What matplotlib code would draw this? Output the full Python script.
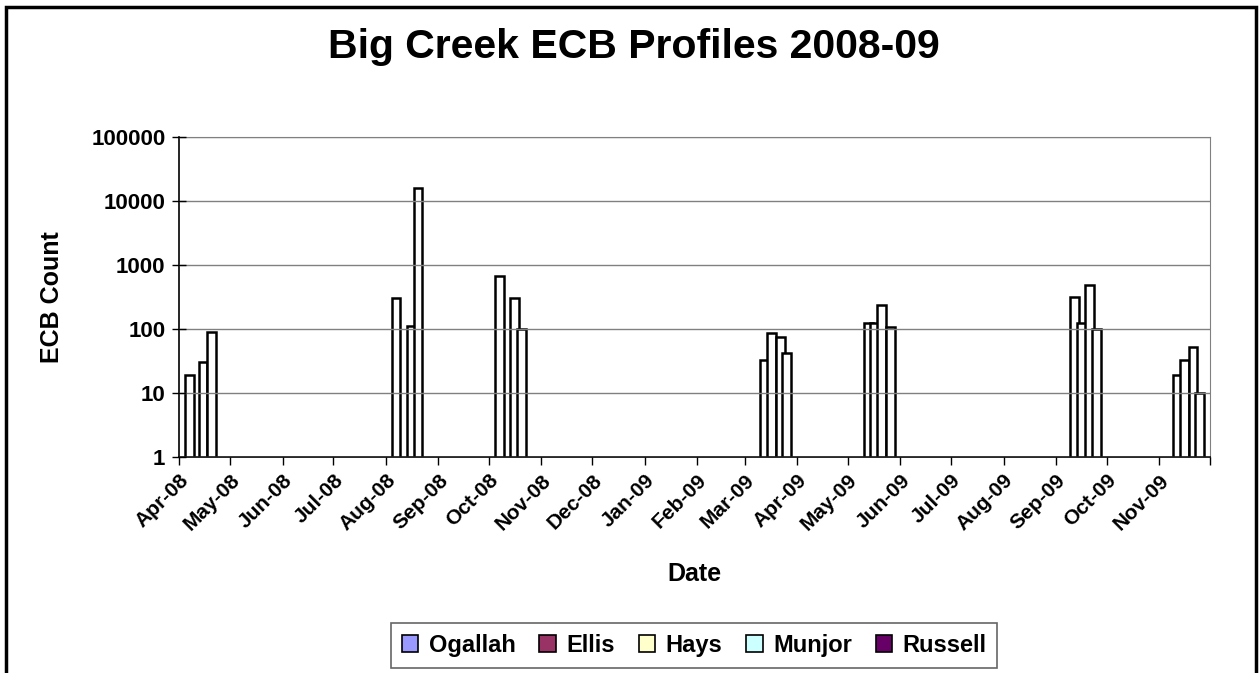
import matplotlib
matplotlib.use("Agg")
import matplotlib.pyplot as plt
import pandas as pd
from matplotlib.patches import Patch, Rectangle

# sample dates and ECB counts
sample_dates = [
    "2008-04-07", "2008-04-15", "2008-04-20",
    "2008-08-07", "2008-08-16", "2008-08-20",
    "2008-10-07", "2008-10-16", "2008-10-20",
    "2009-03-13", "2009-03-17", "2009-03-22", "2009-03-26",
    "2009-05-13", "2009-05-17", "2009-05-21", "2009-05-26",
    "2009-09-12", "2009-09-16", "2009-09-21", "2009-09-25",
    "2009-11-12", "2009-11-16", "2009-11-21", "2009-11-25",
]
ecb_counts = [
    19, 30, 90,
    300, 112, 16000,
    680, 300, 100,
    32, 87, 74, 42,
    123, 123, 237, 107,
    310, 123, 480, 98,
    19, 32, 52, 10,
]

locations = ["Ogallah", "Ellis", "Hays", "Munjor", "Russell"]
loc_colors = ["#9999FF", "#993366", "#FFFFCC", "#CCFFFF", "#660066"]

month_ticks = pd.date_range("2008-04-01", "2009-12-01", freq="MS")
month_labels = [d.strftime("%b-%y") for d in month_ticks[:-1]] + [""]

plt.rcParams["font.family"] = ["Liberation Sans", "DejaVu Sans"]
plt.rcParams["font.weight"] = "bold"

fig = plt.figure(figsize=(12.6, 6.73), dpi=100)
ax = fig.add_axes([0.1423, 0.3214, 0.818, 0.475])

dates = pd.to_datetime(sample_dates)
ax.bar(dates, ecb_counts, width=5.2, bottom=0, color="white",
       edgecolor="black", linewidth=1.8, zorder=2)

ax.set_yscale("log")
ax.set_ylim(1, 100000)
ax.set_yticks([1, 10, 100, 1000, 10000, 100000])
ax.set_yticklabels(["1", "10", "100", "1000", "10000", "100000"])
ax.yaxis.set_minor_locator(matplotlib.ticker.NullLocator())
ax.yaxis.grid(True, color="#808080", linewidth=1.0, zorder=3)
ax.set_axisbelow(False)

ax.set_xlim(month_ticks[0], month_ticks[-1])
ax.set_xticks(month_ticks)
ax.set_xticklabels(month_labels, rotation=45, ha="right",
                   rotation_mode="anchor", fontsize=15, fontweight="bold")
ax.tick_params(axis="x", direction="out", length=6, width=1, pad=4)
ax.tick_params(axis="y", direction="inout", length=10, width=1, labelsize=16, pad=5)

for s in ["top", "right"]:
    ax.spines[s].set_color("#808080")
for s in ["left", "bottom"]:
    ax.spines[s].set_color("black")
    ax.spines[s].set_linewidth(1.2)

ax.set_ylabel("ECB Count", fontsize=18, fontweight="bold")
ax.yaxis.set_label_coords(-0.112, 0.5)
ax.set_xlabel("Date", fontsize=18, fontweight="bold")
ax.xaxis.set_label_coords(0.5, -0.33)

fig.suptitle("Big Creek ECB Profiles 2008-09", fontsize=29.5, fontweight="bold",
             x=0.503, y=0.958)

handles = [Patch(facecolor=c, edgecolor="black", linewidth=1.2) for c in loc_colors]
leg = fig.legend(handles, locations, loc="center", bbox_to_anchor=(0.551, 0.041),
                 ncol=5, frameon=True, fancybox=False, handlelength=0.7,
                 handleheight=0.7, handletextpad=0.45, columnspacing=1.0,
                 borderpad=0.45, prop={"size": 17, "weight": "bold"})
leg.get_frame().set_edgecolor("#404040")
leg.get_frame().set_linewidth(1.2)

# outer chart border
fig.patches.append(Rectangle((6 / 1260, -0.05), 1250 / 1260, 1.04,
                             transform=fig.transFigure, fill=False,
                             edgecolor="black", linewidth=2.5, clip_on=False))

fig.savefig("out.png", dpi=100)
